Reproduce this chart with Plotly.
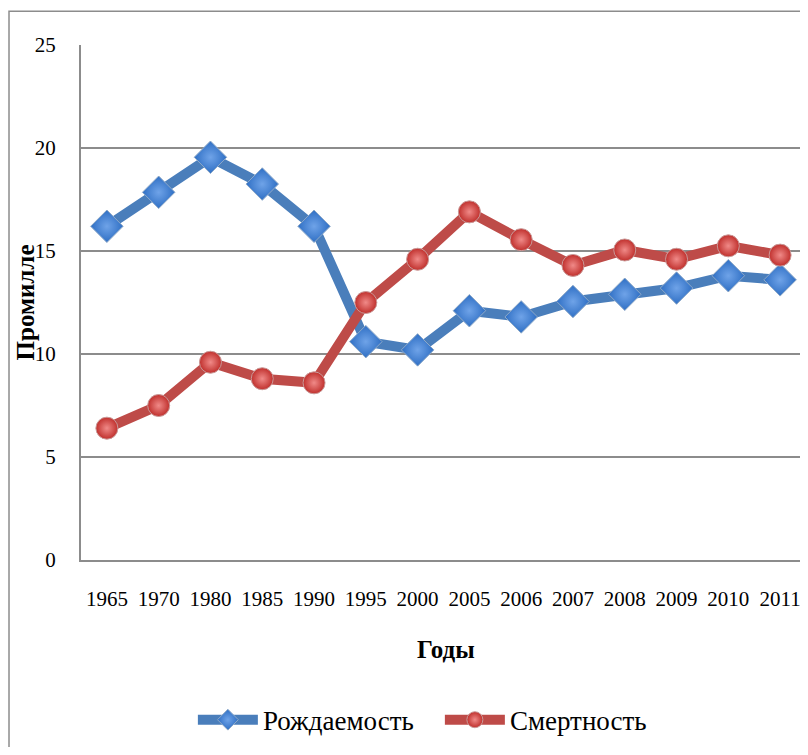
import plotly.graph_objects as go

years = ["1965", "1970", "1980", "1985", "1990", "1995", "2000", "2005",
         "2006", "2007", "2008", "2009", "2010", "2011"]
birth = [16.2, 17.85, 19.55, 18.25, 16.2, 10.6, 10.2, 12.1, 11.8, 12.55, 12.9, 13.2, 13.8, 13.6]
death = [6.4, 7.5, 9.6, 8.8, 8.6, 12.5, 14.6, 16.9, 15.55, 14.3, 15.05, 14.6, 15.25, 14.8]
y_ticks = [0, 5, 10, 15, 20, 25]

FONT = "Liberation Serif, Times New Roman, serif"

fig = go.Figure()
fig.add_trace(go.Scatter(
    x=years, y=birth, name="Рождаемость", mode="lines+markers",
    line=dict(color="#4A7EBB", width=10),
    marker=dict(symbol="diamond", size=25, color="#2F6FC4",
                gradient=dict(type="radial", color="#6FA3E8"),
                line=dict(color="#8EA9C8", width=1)),
))
fig.add_trace(go.Scatter(
    x=years, y=death, name="Смертность", mode="lines+markers",
    line=dict(color="#BE4B48", width=10),
    marker=dict(symbol="circle", size=22, color="#C0302D",
                gradient=dict(type="radial", color="#F08A88"),
                line=dict(color="#C99A99", width=1)),
))

fig.update_layout(
    width=800, height=739,
    margin=dict(l=73, r=2, t=37, b=184),
    paper_bgcolor="white", plot_bgcolor="white",
    font=dict(family=FONT, size=21, color="black"),
    showlegend=True,
    legend=dict(orientation="h", x=0.495, xanchor="center", y=-0.311, yanchor="middle",
                font=dict(family=FONT, size=27), itemwidth=60, entrywidth=172),
    shapes=[dict(type="rect", xref="paper", yref="paper",
                 x0=-0.0993, x1=1.1, y0=-0.5, y1=1.0656,
                 line=dict(color="#8C8C8C", width=1.5), layer="below")],
    annotations=[
        dict(text="<b>Годы</b>", xref="paper", yref="paper", x=0.503, y=-0.174,
             xanchor="center", yanchor="middle", showarrow=False,
             font=dict(family=FONT, size=25)),
        dict(text="<b>Промилле</b>", xref="paper", yref="paper", x=-0.0759, y=0.5,
             xanchor="center", yanchor="middle", showarrow=False, textangle=-90,
             font=dict(family=FONT, size=25)),
    ],
)
fig.update_xaxes(
    type="category", range=[-0.5, len(years) - 0.5],
    showgrid=False, showline=True, linecolor="#8C8C8C", linewidth=2,
    ticks="", ticklabelstandoff=19, tickfont=dict(size=21), automargin=False,
)
fig.update_yaxes(
    range=[0, 25], tickvals=y_ticks, showgrid=True, gridcolor="#8C8C8C", gridwidth=2,
    showline=True, linecolor="#8C8C8C", linewidth=2, zeroline=False,
    ticks="", ticklabelstandoff=19, tickfont=dict(size=21), automargin=False,
)

fig.write_html("out.html")
